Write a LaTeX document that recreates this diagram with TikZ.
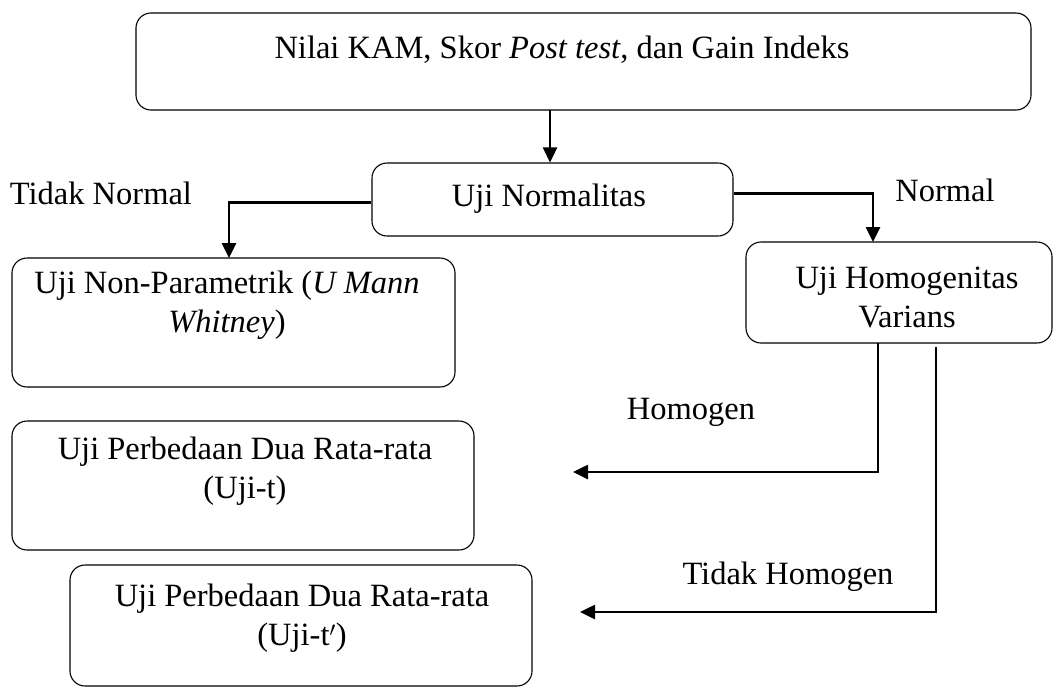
\documentclass[tikz,border=0pt]{standalone}
\usepackage{fontspec}
\setmainfont{Liberation Serif}
\usetikzlibrary{arrows.meta,calc}
\begin{document}
\begin{tikzpicture}[x=1pt,y=-1pt,
  boxst/.style={draw,line width=1.1pt,rounded corners=15pt,inner sep=0pt},
  txt/.style={font=\fontsize{32.5}{39}\selectfont,align=center,inner sep=0pt},
  arr/.style={line width=2.6pt,-{Triangle[length=15pt,width=14pt]}}]
\useasboundingbox (0,0) rectangle (1058,689);
% boxes
\node[boxst,minimum width=895pt,minimum height=97pt] (top) at (583.5,61.5) {};
\node[boxst,minimum width=361pt,minimum height=73pt] (norm) at (552.5,199.5) {};
\node[boxst,minimum width=443pt,minimum height=129pt] (np) at (233.5,322.5) {};
\node[boxst,minimum width=306pt,minimum height=101pt] (hom) at (899,292.5) {};
\node[boxst,minimum width=462pt,minimum height=129pt] (ta) at (243,485.5) {};
\node[boxst,minimum width=462pt,minimum height=121pt] (tb) at (301,625.5) {};
% texts
\node[txt] (toptxt) at (562,50) {Nilai KAM, Skor \textit{Post test}, dan Gain Indeks};
\node[txt] (normtxt) at (549,199) {Uji Normalitas};
\node[txt] (nptxt) at (227,305) {Uji Non-Parametrik (\textit{U Mann}\\\textit{Whitney})};
\node[txt] (homtxt) at (907,297) {Uji Homogenitas\\Varians};
\node[txt] (tatxt) at (245,471) {Uji Perbedaan Dua Rata-rata\\(Uji-t)};
\node[txt] (tbtxt) at (302,618) {Uji Perbedaan Dua Rata-rata\\(Uji-t$'$)};
% labels
\node[txt] (lTN) at (101,193) {Tidak Normal};
\node[txt] (lN) at (945,190) {Normal};
\node[txt] (lH) at (691,412) {Homogen};
\node[txt] (lTH) at (788,577) {Tidak Homogen};
% connectors
\coordinate (topS) at (550,110);
\draw[arr] (topS) -- (norm.north -| topS);
\coordinate (nl) at ($(norm.west)+(0,3)$);
\coordinate (npN) at (229,258);
\draw[arr] (nl) -| (npN);
\coordinate (nr) at ($(norm.east)+(0,-6)$);
\coordinate (homN) at (873,242);
\draw[arr] (nr) -| (homN);
\coordinate (h1) at (878,343);
\coordinate (e1) at (573,472);
\draw[arr] (h1) |- (e1);
\coordinate (h2) at (936,347);
\coordinate (e2) at (580,612);
\draw[arr] (h2) |- (e2);
\end{tikzpicture}
\end{document}
